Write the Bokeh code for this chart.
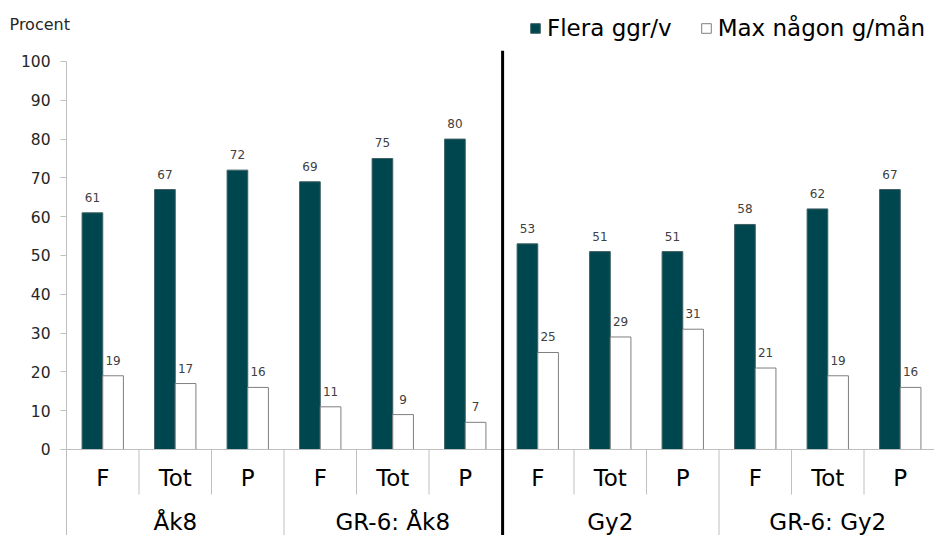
from bokeh.plotting import figure
from bokeh.models import (ColumnDataSource, Range1d, LinearAxis, FixedTicker,
                          Legend, LegendItem)
from bokeh.core.properties import value
from bokeh.embed import file_html
from bokeh.resources import INLINE

# ---- data ----
groups = ["Åk8", "GR-6: Åk8", "Gy2", "GR-6: Gy2"]
categories = ["F", "Tot", "P", "F", "Tot", "P", "F", "Tot", "P", "F", "Tot", "P"]
flera = [61, 67, 72, 69, 75, 80, 53, 51, 51, 58, 62, 67]
max_values = [19, 17, 16, 11, 9, 7, 25, 29, 31, 21, 19, 16]
series_names = ["Flera ggr/v", "Max någon g/mån"]
y_title = "Procent"
y_ticks = [0, 10, 20, 30, 40, 50, 60, 70, 80, 90, 100]

FONT = "DejaVu Sans"
DARK = "#00464F"
DARK_LINE = "#3f5f63"
WHITE_LINE = "#7f7f7f"
GREY = "#bfbfbf"
TXT = "#262626"

n = len(categories)
bw = 0.285
xc = [i + 0.5 for i in range(n)]
src = ColumnDataSource(dict(
    x1=[x - bw / 2 for x in xc],
    x2=[x + bw / 2 for x in xc],
    flera=flera, maxv=max_values,
    fl_lab=[str(v) for v in flera], mx_lab=[str(v) for v in max_values],
))

p = figure(width=934, height=535, output_backend="svg", toolbar_location=None,
           x_range=Range1d(-0.9103, 11.972), y_range=Range1d(-22.165, 115.72),
           min_border_left=0, min_border_right=0, min_border_top=0, min_border_bottom=0,
           x_axis_location=None, y_axis_location=None)
p.outline_line_color = None
p.xgrid.visible = False
p.ygrid.visible = False

# y axis drawn at x = 0 (left edge of the first category)
yax = LinearAxis(bounds=(0, 100), ticker=FixedTicker(ticks=y_ticks), fixed_location=0)
yax.axis_line_color = GREY
yax.major_tick_line_color = GREY
yax.major_tick_out = 6
yax.major_tick_in = 0
yax.minor_tick_line_color = None
yax.major_label_standoff = 10
yax.major_label_text_font = FONT
yax.major_label_text_font_size = "15.5px"
yax.major_label_text_color = TXT
p.add_layout(yax, "left")

r1 = p.vbar(x="x1", top="flera", bottom=0, width=bw, source=src,
            fill_color=DARK, line_color=DARK_LINE, line_width=1)
r2 = p.vbar(x="x2", top="maxv", bottom=0, width=bw, source=src,
            fill_color="white", line_color=WHITE_LINE, line_width=1)

p.text(x="x1", y="flera", text="fl_lab", source=src, text_align="center",
       text_baseline="bottom", y_offset=-11, text_font=value(FONT),
       text_font_size="12px", text_color="#404040")
p.text(x="x2", y="maxv", text="mx_lab", source=src, text_align="center",
       text_baseline="bottom", y_offset=-11, text_font=value(FONT),
       text_font_size="12px", text_color="#404040")

# baseline
p.segment(x0=[0], y0=[0], x1=[11.972], y1=[0], line_color=GREY, line_width=1)

# separators
minor = [1, 2, 4, 5, 7, 8, 10, 11]
p.segment(x0=minor, y0=[0] * len(minor), x1=minor, y1=[-11.6] * len(minor),
          line_color=GREY, line_width=1)
major = [0, 3, 9]
p.segment(x0=major, y0=[0] * len(major), x1=major, y1=[-22.2] * len(major),
          line_color=GREY, line_width=1)
p.segment(x0=[6.015], y0=[102.8], x1=[6.015], y1=[-22.2], line_color="black", line_width=3)

# category + group labels
p.text(x=xc, y=[-7.47] * n, text=categories, text_align="center",
       text_baseline="middle", text_font=value(FONT), text_font_size="23px",
       text_color="black")
gx = [1.5 + 3 * g for g in range(len(groups))]
p.text(x=gx, y=[-18.75] * len(groups), text=groups, text_align="center",
       text_baseline="middle", text_font=value(FONT), text_font_size="23px",
       text_color="black")

# y title
p.text(x=[-0.786], y=[109.5], text=[y_title], text_align="left", text_baseline="middle",
       text_font=value(FONT), text_font_size="16px", text_color=TXT)

legend = Legend(items=[LegendItem(label=series_names[0], renderers=[r1]),
                       LegendItem(label=series_names[1], renderers=[r2])],
                orientation="horizontal", location=(529, 494))
legend.glyph_width = 12
legend.glyph_height = 12
legend.label_standoff = 6
legend.spacing = 28
legend.padding = 0
legend.margin = 0
legend.label_text_font = FONT
legend.label_text_font_size = "23px"
legend.label_text_color = "black"
legend.background_fill_alpha = 0
legend.border_line_alpha = 0
p.add_layout(legend)

open("out.html", "w").write(file_html(p, INLINE))
